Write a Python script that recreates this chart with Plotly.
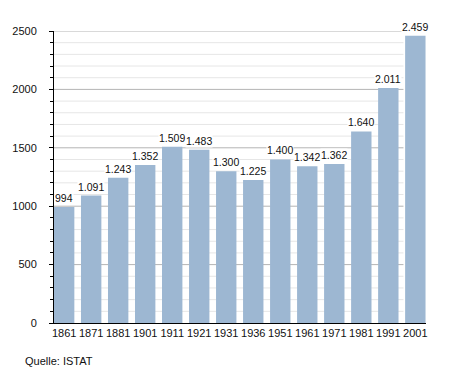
import plotly.graph_objects as go

years = ["1861", "1871", "1881", "1901", "1911", "1921", "1931", "1936",
         "1951", "1961", "1971", "1981", "1991", "2001"]
population = [994, 1091, 1243, 1352, 1509, 1483, 1300, 1225,
              1400, 1342, 1362, 1640, 2011, 2459]
y_ticks = [0, 500, 1000, 1500, 2000, 2500]
source = "Quelle: ISTAT"

def fmt(v):
    return f"{v:,}".replace(",", ".")

BAR = "#9db7d2"
FONT = "Liberation Sans, Arial, sans-serif"

fig = go.Figure()
fig.add_trace(go.Bar(x=years, y=population, marker=dict(color=BAR, line=dict(width=0)),
                     width=0.755, hoverinfo="skip"))

shapes = []
x_lo, x_hi = -0.376, 12.56
for v in range(100, 2501, 100):
    major = v % 500 == 0
    shapes.append(dict(type="line", xref="x", yref="y", x0=x_lo, x1=x_hi, y0=v, y1=v,
                       layer="below",
                       line=dict(color="#b4b4b4" if major else "#e6e6e6", width=1)))

annotations = []
for i, v in enumerate(population):
    annotations.append(dict(x=i, y=v, xref="x", yref="y", text=fmt(v), showarrow=False,
                            yanchor="bottom", yshift=2, bgcolor="white", borderpad=0,
                            font=dict(family=FONT, size=10.5, color="#111")))
annotations.append(dict(x=-31 / 375, y=-38.5 / 292.5, xref="paper", yref="paper", text=source,
                        showarrow=False, xanchor="left", yanchor="middle",
                        font=dict(family=FONT, size=11, color="#111")))

fig.update_layout(
    width=455, height=373,
    margin=dict(l=51, r=29, t=31, b=49.5),
    paper_bgcolor="white", plot_bgcolor="white",
    showlegend=False,
    shapes=shapes, annotations=annotations,
    font=dict(family=FONT, size=11, color="#111"),
    xaxis=dict(type="category", range=[-0.376, 13.395], showgrid=False, showline=True,
               linecolor="black", linewidth=1, ticks="", zeroline=False,
               tickfont=dict(family=FONT, size=11, color="#111")),
    yaxis=dict(range=[0, 2500], tickvals=y_ticks, showgrid=False, showline=True,
               linecolor="black", linewidth=1, ticks="outside", ticklen=4, tickcolor="black",
               zeroline=False, ticklabelstandoff=10,
               tickfont=dict(family=FONT, size=11, color="#111"),
               minor=dict(dtick=100, ticks="outside", ticklen=3, tickcolor="black",
                          showgrid=False)),
)

fig.write_html("out.html", config={"displayModeBar": False},
               post_script="document.body.style.margin='0';")
